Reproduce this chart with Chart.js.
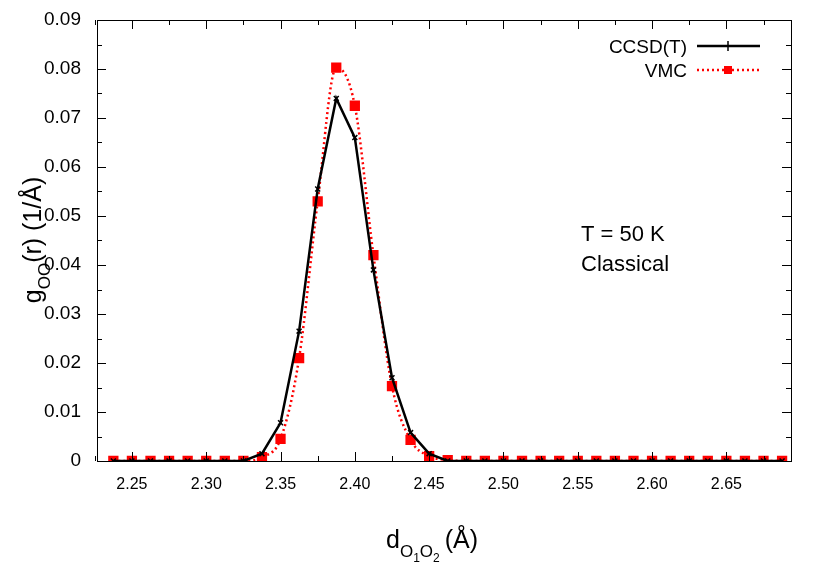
<!DOCTYPE html>
<html><head><meta charset="utf-8">
<script src="https://cdn.jsdelivr.net/npm/chart.js@4/dist/chart.umd.min.js"></script>
<style>body{margin:0;background:#fff}#w{width:830px;height:581px}</style>
</head><body><div id="w"><canvas id="c"></canvas></div>
<script>
const distances = [2.2375,2.25,2.2625,2.275,2.2875,2.30,2.3125,2.325,2.3375,2.35,2.3625,2.375,2.3875,2.40,2.4125,2.425,2.4375,2.45,2.4625,2.475,2.4875,2.50,2.5125,2.525,2.5375,2.55,2.5625,2.575,2.5875,2.60,2.6125,2.625,2.6375,2.65,2.6625,2.675,2.6875];
const ccsdValues = [0,0,0,0,0,0,0,0,0.0015,0.0078,0.0265,0.0555,0.074,0.066,0.039,0.017,0.0058,0.0015,0,0,0,0,0,0,0,0,0,0,0,0,0,0,0,0,0,0,0];
const vmcValues  = [0,0,0,0,0,0,0,0,0.0008,0.0045,0.021,0.053,0.0803,0.0725,0.042,0.0153,0.0043,0.001,0.0002,0,0,0,0,0,0,0,0,0,0,0,0,0,0,0,0,0,0];
const xTicks = [2.25,2.30,2.35,2.40,2.45,2.50,2.55,2.60,2.65];
const yTicks = [0,0.01,0.02,0.03,0.04,0.05,0.06,0.07,0.08,0.09];
const F = '"Liberation Sans", Arial, sans-serif';
const mk = a => distances.map((x,i)=>({x, y:a[i]}));
const deco = {
  id:'deco',
  afterDraw(ch){
    const c=ch.ctx, a=ch.chartArea, xs=ch.scales.x, ys=ch.scales.y;
    c.save();
    c.strokeStyle='#000'; c.lineWidth=1;
    c.strokeRect(a.left+0.5,a.top+0.5,a.right-a.left,a.bottom-a.top);
    c.beginPath();
    xTicks.forEach(t=>{const p=Math.round(xs.getPixelForValue(t))+0.5;c.moveTo(p,a.bottom);c.lineTo(p,a.bottom-9);c.moveTo(p,a.top);c.lineTo(p,a.top+9);});
    for(let t=2.225;t<2.695;t+=0.025){const p=Math.round(xs.getPixelForValue(t))+0.5;c.moveTo(p,a.bottom);c.lineTo(p,a.bottom-5);c.moveTo(p,a.top);c.lineTo(p,a.top+5);}
    yTicks.forEach(t=>{const p=Math.round(ys.getPixelForValue(t))+0.5;c.moveTo(a.left,p);c.lineTo(a.left+9,p);c.moveTo(a.right,p);c.lineTo(a.right-9,p);});
    for(let t=0.005;t<0.09;t+=0.01){const p=Math.round(ys.getPixelForValue(t))+0.5;c.moveTo(a.left,p);c.lineTo(a.left+5,p);c.moveTo(a.right,p);c.lineTo(a.right-5,p);}
    c.stroke();
    c.fillStyle='#000';
    c.font='22px '+F; c.textAlign='left'; c.textBaseline='alphabetic';
    c.fillText('T = 50 K',581,241); c.fillText('Classical',581,271);
    c.font='19px '+F; c.textAlign='right';
    c.fillText('CCSD(T)',687,53); c.fillText('VMC',687,77);
    c.lineWidth=2.5; c.beginPath(); c.moveTo(697,46); c.lineTo(760,46); c.stroke();
    c.beginPath(); c.lineWidth=1.5; c.moveTo(728,41);c.lineTo(728,51);c.stroke();
    c.strokeStyle='#f00'; c.lineWidth=2.5; c.setLineDash([2,3]);
    c.beginPath(); c.moveTo(697,70); c.lineTo(760,70); c.stroke(); c.setLineDash([]);
    c.fillStyle='#f00'; c.fillRect(724,66,8,8);
    c.fillStyle='#000'; c.textAlign='left';
    let x=386; c.font='25px '+F; c.fillText('d',x,548); x+=c.measureText('d').width;
    c.font='17px '+F; c.fillText('O',x,557); x+=c.measureText('O').width;
    c.font='12px '+F; c.fillText('1',x,562); x+=c.measureText('1').width;
    c.font='17px '+F; c.fillText('O',x,557); x+=c.measureText('O').width;
    c.font='12px '+F; c.fillText('2',x,562); x+=c.measureText('2').width+5;
    c.font='25px '+F; c.fillText('(Å)',x,548);
    c.translate(33,240); c.rotate(-Math.PI/2);
    const parts=[['g',25,0],['OO',17,9],['(r) (1/Å)',25,0]];
    let tot=0; parts.forEach(p=>{c.font=p[1]+'px '+F; tot+=c.measureText(p[0]).width;});
    let px=-tot/2; c.textAlign='left';
    parts.forEach(p=>{c.font=p[1]+'px '+F; c.fillText(p[0],px,8+p[2]); px+=c.measureText(p[0]).width;});
    c.restore();
  }
};
new Chart(document.getElementById('c'),{
  type:'scatter',
  data:{datasets:[
    {label:'VMC',data:mk(vmcValues),showLine:true,borderColor:'#f00',borderWidth:2.5,borderDash:[2,3],tension:0.4,cubicInterpolationMode:'monotone',pointStyle:'rect',pointRadius:5.5,pointBackgroundColor:'#f00',pointBorderColor:'#f00',order:1},
    {label:'CCSD(T)',data:mk(ccsdValues),showLine:true,borderColor:'#000',borderWidth:2.5,tension:0,pointStyle:'crossRot',pointRadius:3.5,pointBorderWidth:1.5,pointBorderColor:'#000',order:0}
  ]},
  options:{responsive:true,maintainAspectRatio:false,animation:false,
    layout:{padding:{top:20,right:39,left:0,bottom:0}},
    plugins:{legend:{display:false},tooltip:{enabled:false}},
    scales:{
      x:{type:'linear',min:2.2265,max:2.6935,afterBuildTicks:s=>{s.ticks=xTicks.map(v=>({value:v}));},
        afterFit:s=>{s.height=120;},
        grid:{display:false},border:{display:false},
        ticks:{font:{family:F,size:16},color:'#000',padding:6,maxRotation:0,callback:v=>v.toFixed(2)}},
      y:{min:0,max:0.09,afterBuildTicks:s=>{s.ticks=yTicks.map(v=>({value:v}));},
        afterFit:s=>{s.width=97;},
        grid:{display:false},border:{display:false},
        ticks:{font:{family:F,size:19},color:'#000',padding:8,callback:v=>v===0?'0':v.toFixed(2)}}
    }},
  plugins:[deco]
});
</script></body></html>
